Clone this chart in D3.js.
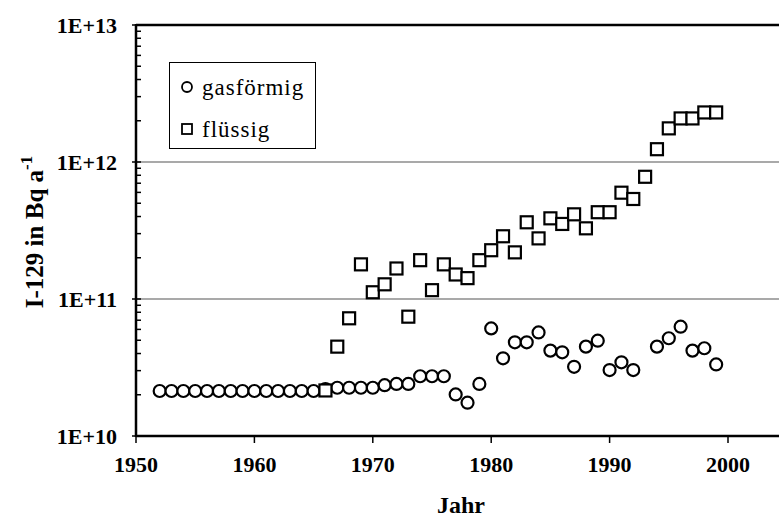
<!DOCTYPE html>
<html>
<head>
<meta charset="utf-8">
<script src="https://cdn.jsdelivr.net/npm/d3@7"></script>
<style>
  body { margin: 0; background: #fff; }
  svg { display: block; font-family: "Liberation Serif", "Times New Roman", serif; }
  .tick-lbl { font-weight: bold; font-size: 22px; }
</style>
</head>
<body>
<script>
// gasförmig (gaseous) releases, Bq per year
var gasYears = [1952,1953,1954,1955,1956,1957,1958,1959,1960,1961,1962,1963,1964,1965,
  1966,1967,1968,1969,1970,1971,1972,1973,1974,1975,1976,1977,1978,1979,
  1980,1981,1982,1983,1984,1985,1986,1987,1988,1989,1990,1991,1992,
  1994,1995,1996,1997,1998,1999];
var gasValues = [2.13e10,2.13e10,2.13e10,2.13e10,2.13e10,2.13e10,2.13e10,2.13e10,2.13e10,2.13e10,2.13e10,2.13e10,2.13e10,2.13e10,
  2.2e10,2.25e10,2.25e10,2.25e10,2.25e10,2.35e10,2.4e10,2.4e10,2.73e10,2.73e10,2.73e10,2.01e10,1.75e10,2.4e10,
  6.1e10,3.69e10,4.83e10,4.83e10,5.7e10,4.2e10,4.08e10,3.2e10,4.49e10,4.96e10,3.03e10,3.45e10,3.03e10,
  4.49e10,5.17e10,6.28e10,4.2e10,4.37e10,3.33e10];

// flüssig (liquid) releases, Bq per year
var liqYears = [1966,1967,1968,1969,1970,1971,1972,1973,1974,1975,1976,1977,1978,1979,
  1980,1981,1982,1983,1984,1985,1986,1987,1988,1989,1990,1991,1992,1993,
  1994,1995,1996,1997,1998,1999];
var liqValues = [2.15e10,4.49e10,7.23e10,1.79e11,1.12e11,1.28e11,1.67e11,7.43e10,1.92e11,1.16e11,1.79e11,1.51e11,1.42e11,1.92e11,
  2.27e11,2.87e11,2.19e11,3.63e11,2.77e11,3.88e11,3.53e11,4.15e11,3.28e11,4.3e11,4.3e11,5.97e11,5.37e11,7.8e11,
  1.24e12,1.76e12,2.08e12,2.08e12,2.3e12,2.3e12];

var xTicks = [1950,1960,1970,1980,1990,2000];
var yTicks = [1e10,1e11,1e12,1e13];
var yTickLabels = ["1E+10","1E+11","1E+12","1E+13"];
var legendNames = ["gasförmig","flüssig"];

var W = 779, H = 518;
var plotLeft = 136, plotTop = 25, plotBottom = 436;

var svg = d3.select("body").append("svg").attr("width", W).attr("height", H);

var x = d3.scaleLinear().domain([1950, 2005]).range([plotLeft, plotLeft + 55 * 11.84]);
var y = d3.scaleLog().domain([1e10, 1e13]).range([plotBottom, plotTop]);

// gridlines
svg.selectAll(".grid").data([1e11, 1e12]).enter().append("line")
  .attr("x1", plotLeft).attr("x2", W)
  .attr("y1", function(d){ return y(d); }).attr("y2", function(d){ return y(d); })
  .style("stroke", "#555").style("stroke-width", 1.2);

// minor ticks on y axis (inside)
var minor = [];
[1e10,1e11,1e12].forEach(function(dec){
  for (var k = 2; k <= 9; k++) minor.push(dec * k);
});
svg.selectAll(".minor").data(minor).enter().append("line")
  .attr("x1", plotLeft).attr("x2", plotLeft + 5)
  .attr("y1", function(d){ return y(d); }).attr("y2", function(d){ return y(d); })
  .style("stroke", "#000").style("stroke-width", 1.5);

// major ticks y (crossing)
svg.selectAll(".ymaj").data(yTicks).enter().append("line")
  .attr("x1", plotLeft - 4).attr("x2", plotLeft + 5)
  .attr("y1", function(d){ return y(d); }).attr("y2", function(d){ return y(d); })
  .style("stroke", "#000").style("stroke-width", 1.5);

svg.selectAll(".ylbl").data(yTicks).enter().append("text")
  .attr("class", "tick-lbl")
  .attr("x", plotLeft - 19)
  .attr("y", function(d){ return y(d) + 8; })
  .attr("text-anchor", "end")
  .text(function(d, i){ return yTickLabels[i]; });

// x ticks
svg.selectAll(".xmaj").data(xTicks).enter().append("line")
  .attr("x1", function(d){ return x(d); }).attr("x2", function(d){ return x(d); })
  .attr("y1", plotBottom).attr("y2", plotBottom + 7)
  .style("stroke", "#000").style("stroke-width", 1.5);

svg.selectAll(".xlbl").data(xTicks).enter().append("text")
  .attr("class", "tick-lbl")
  .attr("x", function(d){ return x(d); })
  .attr("y", plotBottom + 36)
  .attr("text-anchor", "middle")
  .text(function(d){ return d; });

// frame lines
svg.append("line").attr("x1", plotLeft).attr("x2", W).attr("y1", plotTop).attr("y2", plotTop)
  .style("stroke", "#000").style("stroke-width", 2.5);
svg.append("line").attr("x1", plotLeft).attr("x2", W).attr("y1", plotBottom).attr("y2", plotBottom)
  .style("stroke", "#000").style("stroke-width", 2.5);
svg.append("line").attr("x1", plotLeft).attr("x2", plotLeft).attr("y1", plotTop - 1).attr("y2", plotBottom + 1)
  .style("stroke", "#000").style("stroke-width", 2.5);

// data: circles then squares
svg.selectAll(".gas").data(gasYears).enter().append("circle")
  .attr("cx", function(d){ return x(d); })
  .attr("cy", function(d, i){ return y(gasValues[i]); })
  .attr("r", 6)
  .style("fill", "#fff").style("stroke", "#000").style("stroke-width", 2.2);

var s = 12;
svg.selectAll(".liq").data(liqYears).enter().append("rect")
  .attr("x", function(d){ return x(d) - s / 2; })
  .attr("y", function(d, i){ return y(liqValues[i]) - s / 2; })
  .attr("width", s).attr("height", s)
  .style("fill", "#fff").style("stroke", "#000").style("stroke-width", 2.2);

// legend
var lg = svg.append("g");
lg.append("rect").attr("x", 169.5).attr("y", 62.5).attr("width", 146).attr("height", 86)
  .style("fill", "#fff").style("stroke", "#000").style("stroke-width", 1);
lg.append("circle").attr("cx", 187).attr("cy", 87).attr("r", 5)
  .style("fill", "#fff").style("stroke", "#000").style("stroke-width", 1.8);
lg.append("rect").attr("x", 182).attr("y", 124).attr("width", 10).attr("height", 10)
  .style("fill", "#fff").style("stroke", "#000").style("stroke-width", 1.8);
lg.selectAll(".ltxt").data(legendNames).enter().append("text")
  .attr("x", 202)
  .attr("y", function(d, i){ return 95 + i * 42; })
  .style("font-size", "23px")
  .style("letter-spacing", "1px")
  .text(function(d){ return d; });

// axis titles
svg.append("text")
  .attr("x", 461).attr("y", 513)
  .attr("text-anchor", "middle")
  .style("font-weight", "bold").style("font-size", "24px")
  .text("Jahr");

var yt = svg.append("text")
  .attr("transform", "translate(43,232) rotate(-90)")
  .attr("text-anchor", "middle")
  .style("font-weight", "bold").style("font-size", "25px");
yt.append("tspan").text("I-129 in Bq a");
yt.append("tspan").attr("dy", -11).style("font-size", "17px").text("-1");
</script>
</body>
</html>
